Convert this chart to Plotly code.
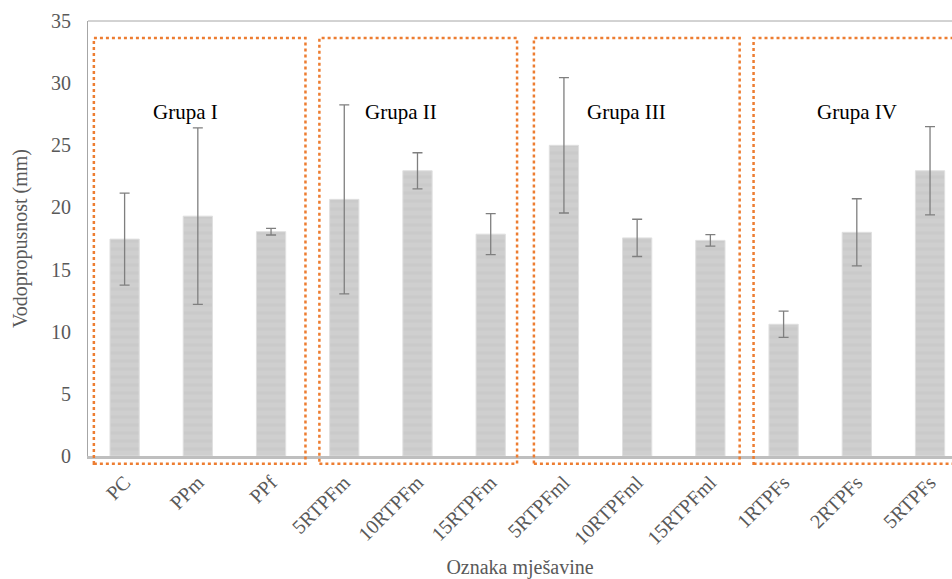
import plotly.graph_objects as go

# Mixture labels and mean water permeability (mm) with standard deviations
mixtures = ["PC", "PPm", "PPf",
            "5RTPFm", "10RTPFm", "15RTPFm",
            "5RTPFml", "10RTPFml", "15RTPFml",
            "1RTPFs", "2RTPFs", "5RTPFs"]
means = [17.45, 19.3, 18.05,
         20.65, 22.95, 17.85,
         25.0, 17.55, 17.35,
         10.6, 18.0, 22.95]
std_dev = [3.7, 7.1, 0.27,
           7.6, 1.45, 1.65,
           5.45, 1.5, 0.46,
           1.06, 2.7, 3.55]

# Mixture groups
groups = ["Grupa I", "Grupa II", "Grupa III", "Grupa IV"]

# Layout of the group outlines and labels (in category units)
box_left = [-0.42, 2.66, 5.59, 8.59]
box_right = [2.47, 5.36, 8.40, 11.8]
label_x = [0.83, 3.77, 6.86, 10.0]
label_y = 27.7

FONT = "Liberation Serif"
GREY_TXT = "#595959"
ORANGE = "#ED7D31"

fig = go.Figure()
fig.add_trace(go.Bar(
    x=list(range(len(mixtures))),
    y=means,
    marker=dict(
        color="#cccccc",
        line=dict(color="#e0e0e0", width=1),
        pattern=dict(shape="-", fgcolor="#c5c5c5", bgcolor="#cfcfcf",
                     size=8, solidity=0.4),
    ),
    error_y=dict(type="data", array=std_dev, visible=True,
                 color="#7f7f7f", thickness=1.3, width=5),
    hoverinfo="x+y",
))

shapes = []
# dotted orange group outlines
for x0, x1 in zip(box_left, box_right):
    shapes.append(dict(
        type="rect", xref="x", yref="paper",
        x0=x0, x1=x1, y0=-0.018, y1=0.961,
        line=dict(color=ORANGE, width=2.5, dash="dot"),
        fillcolor="rgba(0,0,0,0)", layer="above",
    ))
# plot-area top border
shapes.append(dict(type="line", xref="paper", yref="paper",
                   x0=0, x1=1, y0=1, y1=1,
                   line=dict(color="#a6a6a6", width=1)))

annotations = []
for name, lx in zip(groups, label_x):
    annotations.append(dict(
        x=lx, y=label_y, xref="x", yref="y",
        text=name, showarrow=False,
        font=dict(family=FONT, size=21, color="black"),
    ))

fig.update_layout(
    width=952, height=579,
    margin=dict(l=88, r=0, t=21, b=123),
    paper_bgcolor="white", plot_bgcolor="white",
    bargap=0.6,
    showlegend=False,
    shapes=shapes,
    annotations=annotations,
    font=dict(family=FONT, color=GREY_TXT),
    xaxis=dict(
        tickmode="array",
        tickvals=list(range(len(mixtures))),
        ticktext=mixtures,
        tickangle=-45,
        range=[-0.5, 11.3],
        showline=True, linecolor="#bfbfbf", linewidth=3,
        ticks="", showgrid=False, zeroline=False,
        tickfont=dict(family=FONT, size=20, color=GREY_TXT),
        ticklabelstandoff=4,
        title=dict(text="Oznaka mješavine", standoff=16,
                   font=dict(family=FONT, size=20, color=GREY_TXT)),
    ),
    yaxis=dict(
        range=[0, 35], dtick=5,
        showline=True, linecolor="#a6a6a6", linewidth=1,
        ticks="", showgrid=False, zeroline=False,
        tickfont=dict(family=FONT, size=20, color=GREY_TXT),
        ticklabelstandoff=12,
        title=dict(text="Vodopropusnost (mm)", standoff=18,
                   font=dict(family=FONT, size=20, color=GREY_TXT)),
    ),
)

fig.write_html("out.html")
